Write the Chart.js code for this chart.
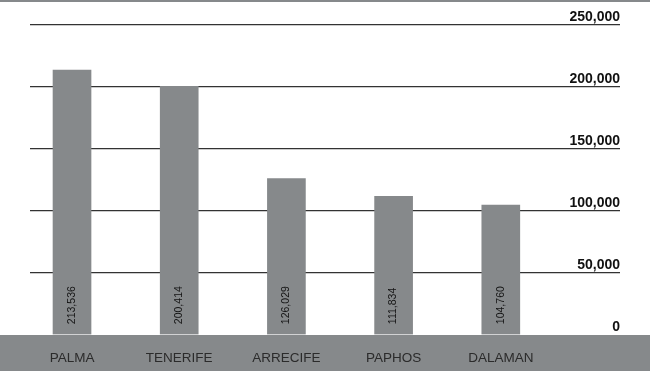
<!DOCTYPE html>
<html>
<head>
<meta charset="utf-8">
<script src="https://cdn.jsdelivr.net/npm/chart.js@4/dist/chart.umd.min.js"></script>
<style>
  html, body { margin: 0; padding: 0; background: #ffffff; }
  #wrap { position: relative; width: 650px; height: 371px; }
</style>
</head>
<body>
<div id="wrap"><canvas id="c"></canvas></div>
<script>
// Airport passenger totals
const categories = ['PALMA', 'TENERIFE', 'ARRECIFE', 'PAPHOS', 'DALAMAN'];
const passengers = [213536, 200414, 126029, 111834, 104760];
const yTicks = [0, 50000, 100000, 150000, 200000, 250000];

const GREY = '#86898b';
const fmt = v => v.toLocaleString('en-US');

// Grey strip along the top edge and the base band holding the category names
const bandPlugin = {
  id: 'band',
  beforeDraw(chart) {
    const { ctx, width, height } = chart;
    const y0 = chart.scales.y.getPixelForValue(0);
    ctx.save();
    ctx.fillStyle = GREY;
    ctx.fillRect(0, 0, width, 2);
    ctx.fillRect(0, Math.round(y0), width, height - Math.round(y0));
    ctx.restore();
  }
};

// Rotated value printed inside the foot of each bar
const valuePlugin = {
  id: 'values',
  afterDatasetsDraw(chart) {
    const { ctx } = chart;
    const meta = chart.getDatasetMeta(0);
    ctx.save();
    ctx.fillStyle = '#141414';
    ctx.font = '10.5px "Liberation Sans", Arial, sans-serif';
    ctx.textAlign = 'left';
    ctx.textBaseline = 'middle';
    meta.data.forEach((bar, i) => {
      ctx.save();
      ctx.translate(bar.x, bar.base - 10);
      ctx.rotate(-Math.PI / 2);
      ctx.fillText(fmt(passengers[i]), 0, 0);
      ctx.restore();
    });
    ctx.restore();
  }
};

new Chart(document.getElementById('c'), {
  type: 'bar',
  data: {
    datasets: [{
      data: passengers.map((v, i) => ({ x: i, y: v })),
      backgroundColor: GREY,
      borderWidth: 0,
      barThickness: 38
    }]
  },
  options: {
    responsive: true,
    maintainAspectRatio: false,
    animation: false,
    events: [],
    layout: { padding: { left: 30, right: 30, top: 25, bottom: -10 } },
    plugins: { legend: { display: false }, tooltip: { enabled: false } },
    scales: {
      x: {
        type: 'linear',
        offset: false,
        min: -0.392,
        max: 5.112,
        afterBuildTicks: s => { s.ticks = categories.map((_, i) => ({ value: i })); },
        ticks: {
          callback: v => categories[v] ?? '',
          color: '#2b2b2b',
          font: { family: '"Liberation Sans", Arial, sans-serif', size: 13.5 },
          padding: 15,
          maxRotation: 0,
          autoSkip: false
        },
        grid: { display: false, drawTicks: false, offset: false },
        border: { display: false }
      },
      y: {
        position: 'right',
        min: 0,
        max: 250000,
        z: 1,
        afterBuildTicks: s => { s.ticks = yTicks.map(v => ({ value: v })); },
        ticks: {
          mirror: true,
          padding: 0,
          labelOffset: -8,
          color: '#111111',
          font: { family: '"Liberation Sans", Arial, sans-serif', size: 14, weight: 'bold' },
          callback: v => fmt(v)
        },
        grid: {
          drawTicks: false,
          color: ctx => ctx.tick && ctx.tick.value === 0 ? 'rgba(0,0,0,0)' : '#333333',
          lineWidth: 1.3
        },
        border: { display: false }
      }
    }
  },
  plugins: [bandPlugin, valuePlugin]
});
</script>
</body>
</html>
